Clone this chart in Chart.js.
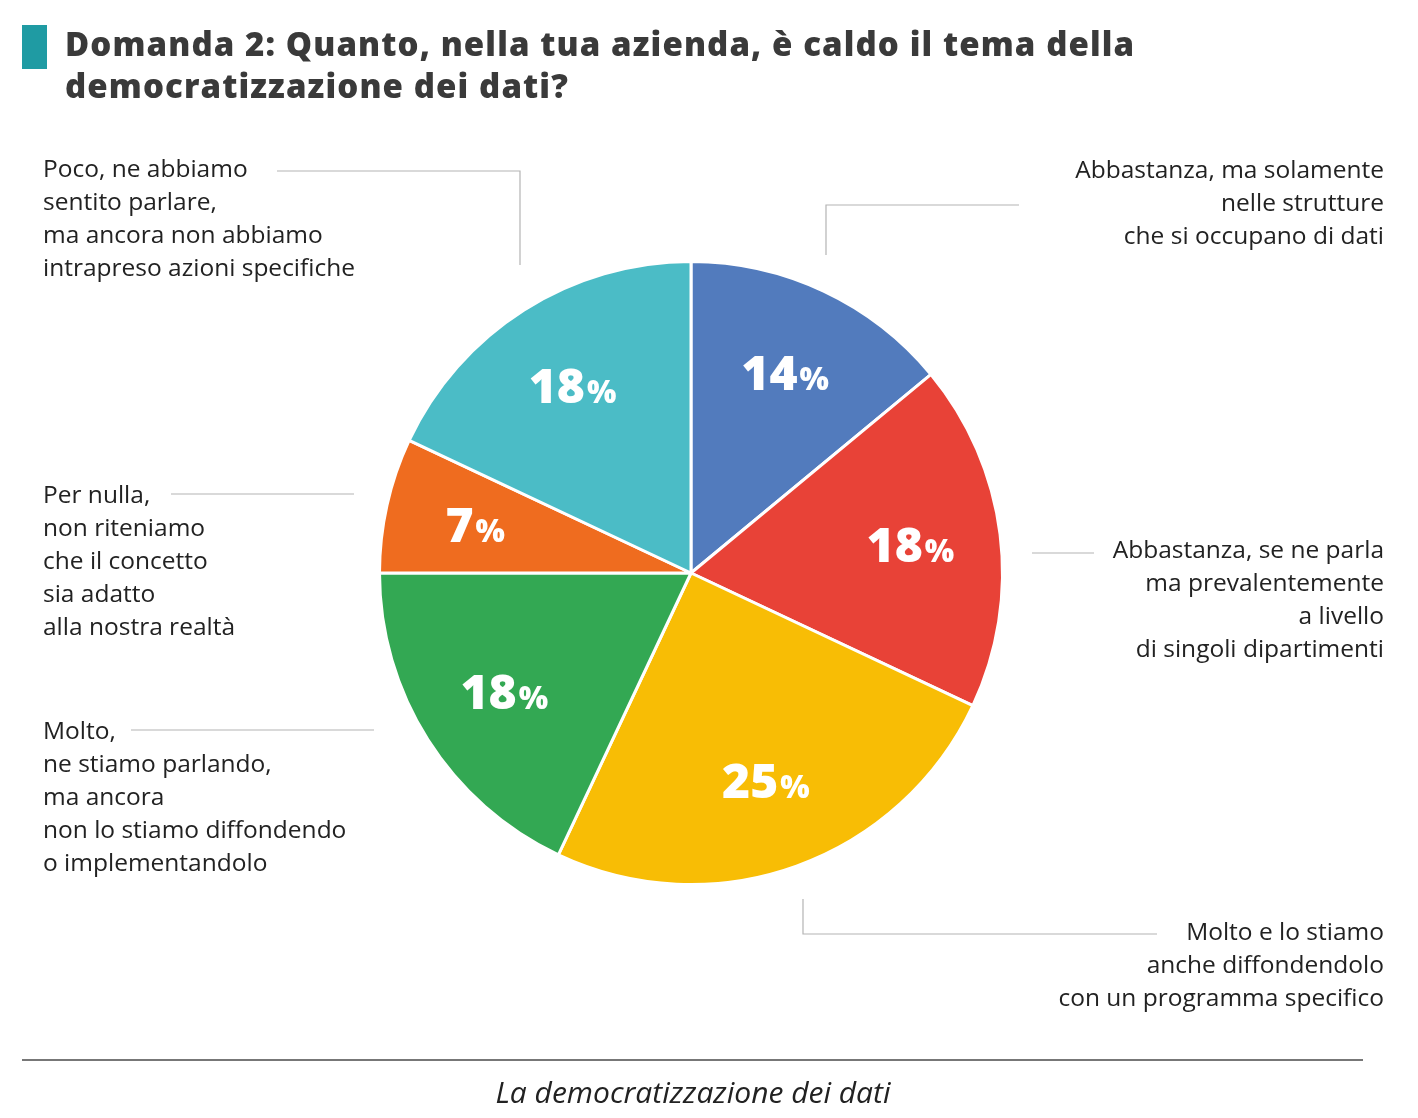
<!DOCTYPE html>
<html>
<head>
<meta charset="utf-8">
<script src="https://cdn.jsdelivr.net/npm/chart.js@4.4.1/dist/chart.umd.min.js"></script>
<style>
  html, body { margin: 0; padding: 0; background: #fff; }
  #wrap { position: relative; width: 1418px; height: 1118px; overflow: hidden; font-family: 'Open Sans', sans-serif; }
  #chart { position: absolute; left: 0; top: 0; }
  .bar { position: absolute; left: 22px; top: 25px; width: 25px; height: 44px; background: #1f9ba3; }
  .title { position: absolute; left: 65px; top: 23px; font-size: 33px; line-height: 42px; font-weight: 800; color: #3a3a3a; letter-spacing: 1.1px; }
  .lbl { position: absolute; font-size: 24.5px; line-height: 33px; color: #222; white-space: nowrap; }
  .lbl.r { text-align: right; right: 34px; }
  .lbl.l { left: 43px; }
  .foot-line { position: absolute; left: 22px; top: 1059px; width: 1341px; height: 2px; background: #777; }
  .foot { position: absolute; left: 0; width: 1386px; top: 1071px; text-align: center; font-size: 30px; font-style: italic; color: #222; font-family: 'Liberation Sans Narrow', 'Open Sans', sans-serif; }
</style>
</head>
<body>
<div id="wrap">
  <canvas id="chart" width="1418" height="1118"></canvas>
  <div class="bar"></div>
  <div class="title">Domanda 2: Quanto, nella tua azienda, è caldo il tema della<br>democratizzazione dei dati?</div>

  <div class="lbl l" style="top:151px">Poco, ne abbiamo<br>sentito parlare,<br>ma ancora non abbiamo<br>intrapreso azioni specifiche</div>
  <div class="lbl r" style="top:152px">Abbastanza, ma solamente<br>nelle strutture<br>che si occupano di dati</div>
  <div class="lbl l" style="top:477px">Per nulla,<br>non riteniamo<br>che il concetto<br>sia adatto<br>alla nostra realtà</div>
  <div class="lbl r" style="top:532px">Abbastanza, se ne parla<br>ma prevalentemente<br>a livello<br>di singoli dipartimenti</div>
  <div class="lbl l" style="top:713px">Molto,<br>ne stiamo parlando,<br>ma ancora<br>non lo stiamo diffondendo<br>o implementandolo</div>
  <div class="lbl r" style="top:914px">Molto e lo stiamo<br>anche diffondendolo<br>con un programma specifico</div>

  <div class="foot-line"></div>
  <div class="foot">La democratizzazione dei dati</div>
</div>
<script>
// answers, clockwise from 12 o'clock
const categories = [
  'Abbastanza, ma solamente nelle strutture che si occupano di dati',
  'Abbastanza, se ne parla ma prevalentemente a livello di singoli dipartimenti',
  'Molto e lo stiamo anche diffondendolo con un programma specifico',
  'Molto, ne stiamo parlando, ma ancora non lo stiamo diffondendo o implementandolo',
  'Per nulla, non riteniamo che il concetto sia adatto alla nostra realtà',
  'Poco, ne abbiamo sentito parlare, ma ancora non abbiamo intrapreso azioni specifiche'
];
const percentages = [14, 18, 25, 18, 7, 18];
const sliceColors = ['#527bbd', '#e84237', '#f8bd05', '#33a853', '#ef6c1f', '#4bbcc6'];

// leader lines from the labels to the pie (page pixels)
const leaders = [
  [[277, 171], [520, 171], [520, 265]],
  [[1019, 205], [826, 205], [826, 255]],
  [[1032, 553], [1094, 553]],
  [[803, 899], [803, 934], [1157, 934]],
  [[171, 494], [354, 494]],
  [[131, 730], [374, 730]]
];

const leaderPlugin = {
  id: 'leaders',
  beforeDraw(chart) {
    const c = chart.ctx;
    c.save();
    c.strokeStyle = '#b4b4b4';
    c.lineWidth = 1.2;
    leaders.forEach(pts => {
      c.beginPath();
      pts.forEach((p, i) => i ? c.lineTo(p[0], p[1]) : c.moveTo(p[0], p[1]));
      c.stroke();
    });
    c.restore();
  }
};

const pctPlugin = {
  id: 'pctLabels',
  afterDatasetsDraw(chart) {
    const c = chart.ctx;
    const meta = chart.getDatasetMeta(0);
    c.save();
    c.fillStyle = '#fff';
    c.textBaseline = 'alphabetic';
    meta.data.forEach((arc, i) => {
      const mid = (arc.startAngle + arc.endAngle) / 2;
      const r = arc.outerRadius * 0.71;
      const x = arc.x + Math.cos(mid) * r;
      const y = arc.y + Math.sin(mid) * r;
      const num = String(percentages[i]);
      c.font = "800 48px 'Open Sans', sans-serif";
      const wNum = c.measureText(num).width;
      c.font = "800 31px 'Open Sans', sans-serif";
      const wPct = c.measureText('%').width;
      const x0 = x - (wNum + wPct + 2) / 2;
      c.font = "800 48px 'Open Sans', sans-serif";
      c.fillText(num, x0, y + 17);
      c.font = "800 31px 'Open Sans', sans-serif";
      c.fillText('%', x0 + wNum + 2, y + 17);
    });
    c.restore();
  }
};

new Chart(document.getElementById('chart'), {
  type: 'pie',
  data: {
    labels: categories,
    datasets: [{
      data: percentages,
      backgroundColor: sliceColors,
      borderColor: '#ffffff',
      borderWidth: 3,
    }]
  },
  options: {
    responsive: false,
    animation: false,
    layout: { padding: { left: 378, right: 414, top: 260, bottom: 232 } },
    plugins: {
      legend: { display: false },
      tooltip: { enabled: false },
    },
  },
  plugins: [leaderPlugin, pctPlugin],
});
</script>
</body>
</html>
